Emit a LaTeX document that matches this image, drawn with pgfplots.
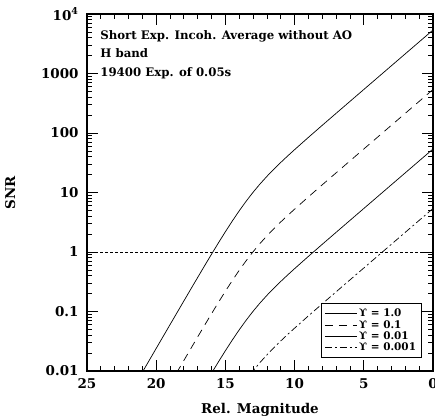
\documentclass[border=0pt]{standalone}
\usepackage{pgfplots}
\pgfplotsset{compat=1.18}
\usepackage{pgfplotstable}
\usepackage{fontspec}
\setmainfont{DejaVu Serif}
\pgfplotstableread{
m      g1       g2        g3        g4
0      5385     538.5     53.85     5.385
1      3398     339.8     33.98     3.398
2      2144     214.4     21.44     2.144
3      1353     135.3     13.53     1.353
4      853.5    85.35     8.535     0.8535
5      538.4    53.84     5.384     0.5384
6      339.6    33.96     3.396     0.3396
7      214.1    21.41     2.141     0.2141
8      134.8    13.48     1.348     0.1348
9      84.5     8.45      0.845     0.0845
10     52.5     5.25      0.525     0.0525
10.5   41.16    4.116     0.4116    0.04116
11     32.0     3.20      0.320     0.0320
11.5   24.64    2.464     0.2464    0.02464
12     18.68    1.868     0.1868    0.01868
12.5   13.89    1.389     0.1389    0.01389
13     10.09    1.009     0.1009    0.01009
13.5   7.140    0.714     0.0714    0.00714
14     4.926    0.4926    0.04926   0.004926
14.5   3.318    0.3318    0.03318   0.003318
15     2.192    0.2192    0.02192   0.002192
15.5   1.428    0.1428    0.01428   0.001428
16     0.920    0.0920    0.00920   0.000920
16.5   0.5885   0.05885   0.005885  0.0005885
17     0.3746   0.03746   0.003746  0.0003746
17.5   0.2377   0.02377   0.002377  0.0002377
18     0.1505   0.01505   0.001505  0.0001505
19     0.06015  0.006015  0.0006015 0.00006015
20     0.02398  0.002398  0.0002398 0.00002398
21     0.00955  0.000955  0.0000955 0.00000955
}\snrdata
\begin{document}
\begin{tikzpicture}
\begin{axis}[
  width=346bp, height=357bp, scale only axis,
  ymode=log, x dir=reverse,
  xmin=0, xmax=25, ymin=0.01, ymax=10000,
  xtick={0,5,...,25}, minor x tick num=4,
  ytick={0.01,0.1,1,10,100,1000,10000},
  yticklabels={0.01,0.1,1,10,100,1000,10\textsuperscript{4}},
  xticklabels={0,5,10,15,20,25},
  tick align=inside, tick pos=both,
  major tick length=11bp, minor tick length=5bp,
  every tick/.style={black, line width=0.8pt},
  axis line style={line width=1.2pt},
  tick label style={font=\fontsize{13.5}{14}\bfseries},
  yticklabel style={xshift=-5bp},
  xticklabel style={yshift=-4bp},
  /pgf/number format/assume math mode=true,
  xlabel={Rel. Magnitude}, ylabel={SNR},
  label style={font=\fontsize{13.5}{14}\bfseries},
  xlabel style={yshift=-8bp},
  ylabel style={yshift=19bp},
  legend style={at={(0.968,0.036)}, anchor=south east, draw=black, line width=0.8pt,
    font=\fontsize{10.5}{11}\bfseries, row sep=-2bp, inner sep=3.5bp,
    cells={anchor=west}},
  legend image code/.code={\draw[#1] (0bp,0bp) -- (32bp,0bp);},
  clip=true,
]
\addplot[black, line width=0.7pt] table[x=m, y=g1] {\snrdata};
\addlegendentry{ϒ = 1.0}
\addplot[black, line width=0.7pt, dash pattern=on 8bp off 6bp] table[x=m, y=g2] {\snrdata};
\addlegendentry{ϒ = 0.1}
\addplot[black, line width=0.7pt] table[x=m, y=g3] {\snrdata};
\addlegendentry{ϒ = 0.01}
\addplot[black, line width=0.7pt, dash pattern=on 7bp off 3bp on 2bp off 3bp] table[x=m, y=g4] {\snrdata};
\addlegendentry{ϒ = 0.001}
\addplot[black, line width=0.8pt, dash pattern=on 3bp off 2bp, forget plot] coordinates {(0,1) (25,1)};
\node[anchor=north west, align=left, font=\fontsize{11.8}{18.5}\bfseries, inner sep=0pt]
  at (rel axis cs:0.038,0.955) {Short Exp. Incoh. Average without AO\\H band\\19400 Exp. of 0.05s};
\end{axis}
\pgfresetboundingbox
\path[use as bounding box] ([xshift=-87bp,yshift=-48bp]current axis.south west) rectangle ([xshift=2bp,yshift=14bp]current axis.north east);
\end{tikzpicture}
\end{document}
